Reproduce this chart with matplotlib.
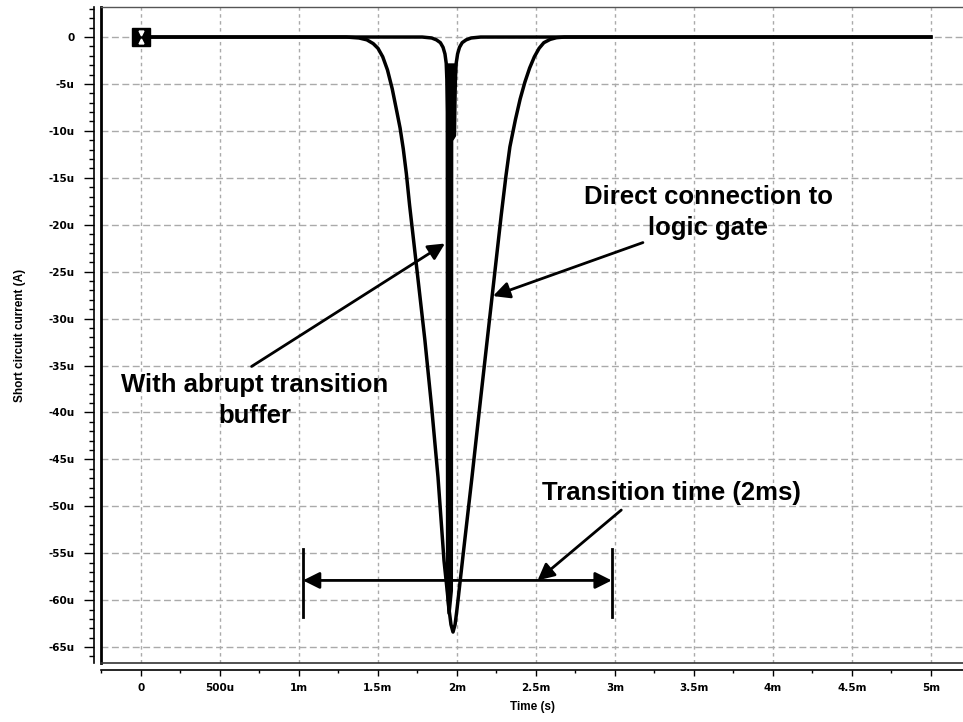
import numpy as np
import matplotlib.pyplot as plt
from matplotlib.ticker import FixedLocator, MultipleLocator

plt.rcParams['font.family'] = ['Liberation Sans', 'DejaVu Sans']
plt.rcParams['font.weight'] = 'bold'

# time in ms, current in uA
wide_t = [0, 1.30, 1.38, 1.43, 1.47, 1.50, 1.53, 1.56, 1.59, 1.62, 1.64, 1.66, 1.68,
          1.70, 1.75, 1.797, 1.84, 1.88, 1.918, 1.935, 1.950, 1.962, 1.975, 1.988,
          2.00, 2.02, 2.04, 2.095, 2.15, 2.20, 2.25, 2.28, 2.31, 2.335, 2.37, 2.40,
          2.43, 2.46, 2.49, 2.52, 2.55, 2.59, 2.63, 2.68, 5.0]
wide_i = [0, 0, -0.1, -0.3, -0.7, -1.2, -2.1, -3.5, -5.5, -8.0, -9.7, -11.9, -14.6,
          -17.9, -25.3, -32.3, -39.5, -46.9, -55.8, -58.5, -61.0, -62.6, -63.4, -62.6,
          -61.0, -58.0, -55.0, -46.9, -38.5, -31.0, -23.5, -19.0, -14.8, -11.7, -8.8, -6.6,
          -4.8, -3.3, -2.1, -1.2, -0.6, -0.25, -0.07, 0, 0]

narrow_t = [0, 1.78, 1.84, 1.87, 1.895, 1.912, 1.924, 1.932, 1.936, 1.939, 1.941,
            1.950, 1.964, 1.966, 1.984, 1.987, 1.990, 1.995, 2.004, 2.016, 2.033,
            2.058, 2.09, 2.15, 5.0]
narrow_i = [0, 0, -0.1, -0.3, -0.6, -1.1, -1.8, -2.8, -4.5, -8, -59,
            -61.4, -59, -11, -10.5, -7, -4.5, -2.8, -1.8, -1.1, -0.6,
            -0.3, -0.1, 0, 0]

x_ticks = [0, 0.5, 1, 1.5, 2, 2.5, 3, 3.5, 4, 4.5, 5]
x_labels = ['0', '500u', '1m', '1.5m', '2m', '2.5m', '3m', '3.5m', '4m', '4.5m', '5m']
y_ticks = [0, -5, -10, -15, -20, -25, -30, -35, -40, -45, -50, -55, -60, -65]
y_labels = ['0'] + ['%du' % v for v in y_ticks[1:]]

fig = plt.figure(figsize=(9.63, 7.22), dpi=100)
ax = fig.add_axes([0.1049, 0.0817, 0.8951, 0.9086])
ax.set_xlim(-0.253, 5.203)
ax.set_ylim(-66.7, 3.2)

# grid
for xv in x_ticks:
    ax.axvline(xv, color='#aaaaaa', lw=1, ls=(0, (2.5, 2.5)), zorder=0)
for yv in y_ticks:
    ax.axhline(yv, color='#aaaaaa', lw=1, ls=(0, (5, 2.5)), zorder=0)

ax.plot(wide_t, wide_i, color='black', lw=2.5, solid_joinstyle='round', zorder=3)
ax.plot(narrow_t, narrow_i, color='black', lw=2.5, solid_joinstyle='round', zorder=3)
# the fast pulse renders as a solid bar
nt = np.array(narrow_t)
ni = np.array(narrow_i)
deep = ni <= -2.8
ax.fill(nt[deep], ni[deep], color='black', lw=0, zorder=3)

# marker at start
ax.plot([0], [0], marker='s', ms=13, color='black', zorder=5)
ax.plot([0], [0.45], marker='v', ms=3.5, color='white', mec='white', zorder=6)
ax.plot([0], [-0.45], marker='^', ms=3.5, color='white', mec='white', zorder=6)

# frame
ax.plot([0, 0], [0, 1], transform=ax.transAxes, color='black', lw=2, clip_on=False)
ax.plot([0, 1], [1, 1], transform=ax.transAxes, color='#555555', lw=1, clip_on=False)
ax.plot([0, 1], [0, 0], transform=ax.transAxes, color='#333333', lw=1.2, clip_on=False)

for s in ['top', 'right']:
    ax.spines[s].set_visible(False)
ax.spines['left'].set_position(('outward', 5))
ax.spines['bottom'].set_position(('outward', 5))
ax.spines['left'].set_linewidth(1.2)
ax.spines['bottom'].set_linewidth(1.2)

ax.xaxis.set_major_locator(FixedLocator(x_ticks))
ax.set_xticklabels(x_labels, family='DejaVu Sans', fontweight='bold')
ax.xaxis.set_minor_locator(MultipleLocator(0.25))
ax.yaxis.set_major_locator(FixedLocator(y_ticks))
ax.set_yticklabels(y_labels, family='DejaVu Sans', fontweight='bold')
ax.yaxis.set_minor_locator(MultipleLocator(1))
ax.tick_params(axis='x', which='major', length=4.5, width=1, pad=5, labelsize=7.5)
ax.tick_params(axis='x', which='minor', length=2.5, width=1)
ax.tick_params(axis='y', which='major', length=7, width=1, pad=7, labelsize=7.5)
ax.tick_params(axis='y', which='minor', length=3.5, width=1)

ax.set_xlabel('Time (s)', fontsize=8.5, fontweight='bold', labelpad=6)
ax.set_ylabel('Short circuit current (A)', fontsize=8.5, fontweight='bold', labelpad=16)

arrow = dict(arrowstyle='-|>', mutation_scale=25, lw=2, color='black', shrinkA=0, shrinkB=0)

ax.text(3.59, -18.7, 'Direct connection to\nlogic gate', fontsize=18.5, fontweight='bold',
        ha='center', va='center', linespacing=1.35)
ax.annotate('', xy=(2.228, -27.6), xytext=(3.177, -21.9), arrowprops=arrow)

ax.text(0.72, -38.7, 'With abrupt transition\nbuffer', fontsize=18.5, fontweight='bold',
        ha='center', va='center', linespacing=1.35)
ax.annotate('', xy=(1.924, -22.0), xytext=(0.70, -35.1), arrowprops=arrow)

ax.text(3.36, -48.6, 'Transition time (2ms)', fontsize=18.5, fontweight='bold',
        ha='center', va='center')
ax.annotate('', xy=(2.51, -57.9), xytext=(3.04, -50.4), arrowprops=arrow)

# 2ms span marker
span_x = [1.025, 2.98]
ax.annotate('', xy=(span_x[0], -57.9), xytext=(span_x[1], -57.9),
            arrowprops=dict(arrowstyle='<|-|>', mutation_scale=25, lw=2, color='black',
                            shrinkA=0, shrinkB=0))
for xv in span_x:
    ax.plot([xv, xv], [-54.5, -61.8], color='black', lw=2)

fig.savefig('out.png', dpi=100)
